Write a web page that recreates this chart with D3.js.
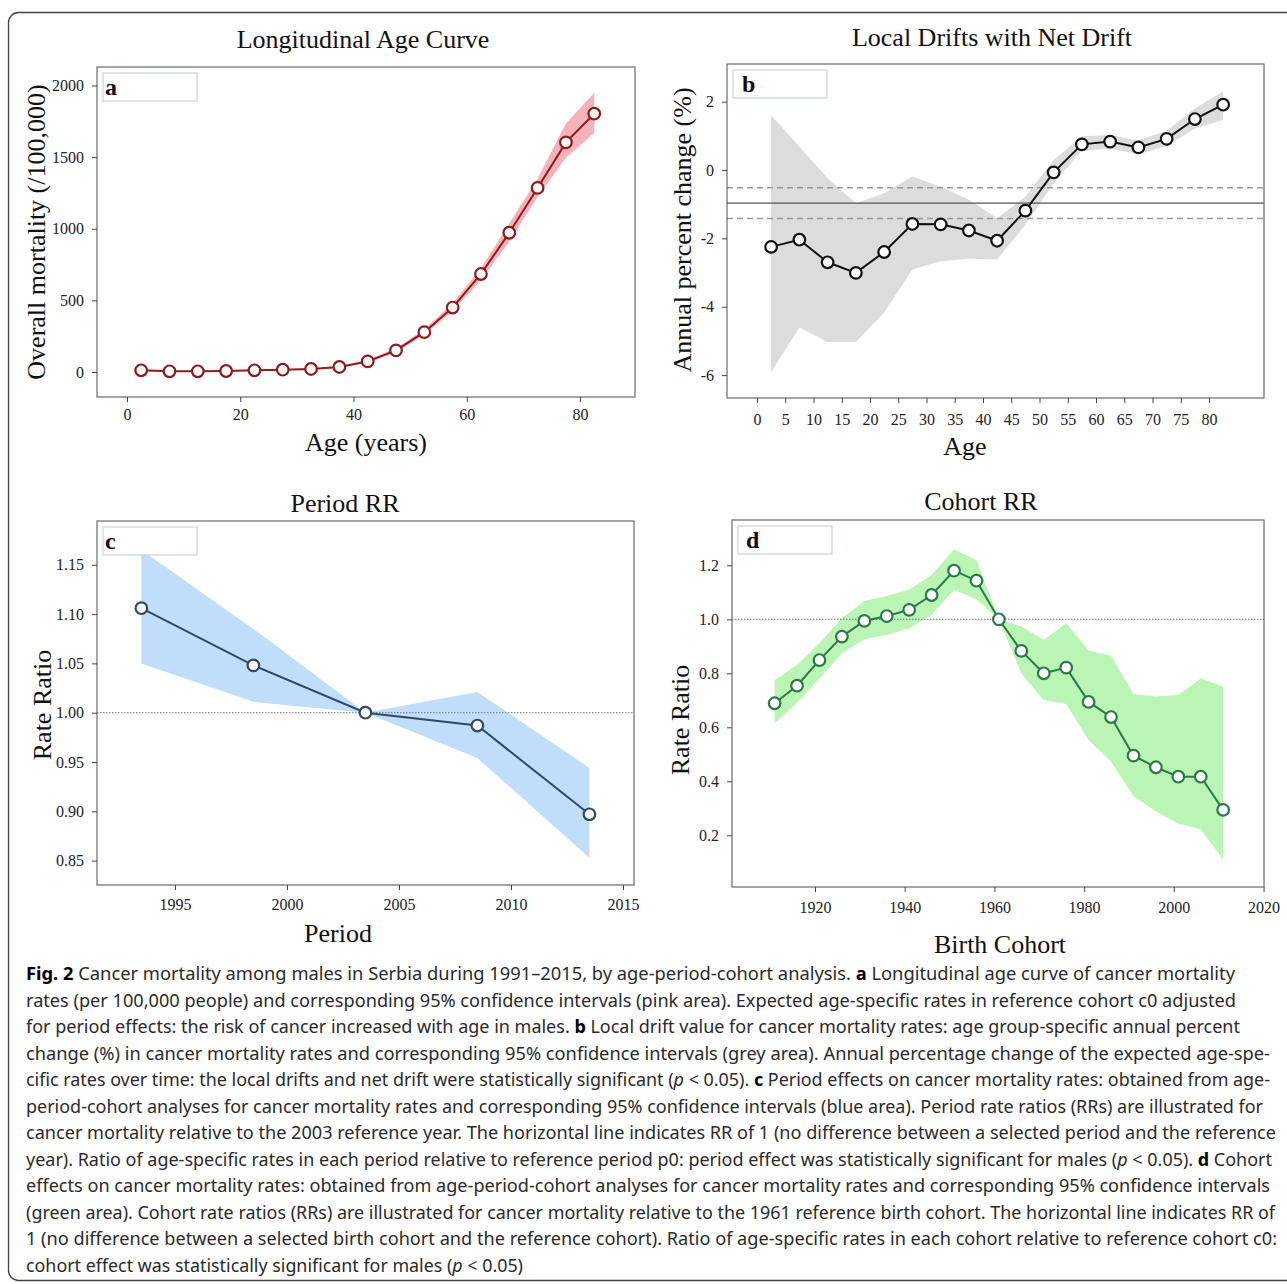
<!DOCTYPE html>
<html>
<head>
<meta charset="utf-8">
<script src="https://cdn.jsdelivr.net/npm/d3@7"></script>
<style>
  body { margin: 0; background: #fff; }
  .serif { font-family: "Liberation Serif", "DejaVu Serif", serif; }
  .cap { font-family: "Noto Sans", "Open Sans", sans-serif; white-space: pre; }
</style>
</head>
<body>
<svg id="fig" width="1287" height="1284"></svg>
<script>
// ---- panel a: longitudinal age curve ----
const ageGroups = [2.5, 7.5, 12.5, 17.5, 22.5, 27.5, 32.5, 37.5, 42.5, 47.5, 52.5, 57.5, 62.5, 67.5, 72.5, 77.5, 82.5];
const ageRate   = [12, 5, 5, 7, 12, 16, 21, 35, 74, 151, 278, 450, 684, 972, 1285, 1603, 1803];
const ageRateLo = [8, 2, 2, 4, 8, 12, 17, 30, 63, 137, 260, 422, 643, 910, 1223, 1495, 1668];
const ageRateHi = [16, 8, 8, 10, 16, 20, 25, 40, 86, 165, 299, 480, 724, 1037, 1350, 1735, 1949];
const ageTicksX = [0, 20, 40, 60, 80];
const ageTicksY = [0, 500, 1000, 1500, 2000];

// ---- panel b: local drifts ----
const drift   = [-2.25, -2.04, -2.70, -3.01, -2.40, -1.58, -1.59, -1.77, -2.07, -1.19, -0.07, 0.75, 0.83, 0.66, 0.91, 1.49, 1.91];
const driftLo = [-5.92, -4.61, -5.03, -5.03, -4.17, -2.91, -2.67, -2.60, -2.62, -1.60, -0.39, 0.56, 0.63, 0.46, 0.70, 1.21, 1.46];
const driftHi = [1.60, 0.68, -0.24, -0.97, -0.68, -0.19, -0.49, -0.87, -1.41, -0.78, 0.29, 0.99, 1.02, 0.87, 1.15, 1.80, 2.30];
const netDrift = [-0.97, -1.42, -0.52]; // estimate, lower, upper
const driftTicksX = [0, 5, 10, 15, 20, 25, 30, 35, 40, 45, 50, 55, 60, 65, 70, 75, 80];
const driftTicksY = [-6, -4, -2, 0, 2];

// ---- panel c: period RR ----
const periods  = [1993.5, 1998.5, 2003.5, 2008.5, 2013.5];
const periodRR = [1.106, 1.048, 1.000, 0.987, 0.897];
const periodLo = [1.050, 1.011, 1.000, 0.954, 0.853];
const periodHi = [1.165, 1.085, 1.000, 1.021, 0.944];
const periodTicksX = [1995, 2000, 2005, 2010, 2015];
const periodTicksY = [0.85, 0.90, 0.95, 1.00, 1.05, 1.10, 1.15];

// ---- panel d: cohort RR ----
const cohorts  = [1911, 1916, 1921, 1926, 1931, 1936, 1941, 1946, 1951, 1956, 1961, 1966, 1971, 1976, 1981, 1986, 1991, 1996, 2001, 2006, 2011];
const cohortRR = [0.689, 0.754, 0.849, 0.936, 0.994, 1.012, 1.035, 1.090, 1.180, 1.143, 1.000, 0.883, 0.800, 0.821, 0.694, 0.638, 0.495, 0.452, 0.417, 0.417, 0.294];
const cohortLo = [0.615, 0.691, 0.781, 0.874, 0.926, 0.942, 0.967, 1.016, 1.109, 1.074, 1.000, 0.800, 0.701, 0.686, 0.553, 0.473, 0.346, 0.288, 0.244, 0.222, 0.111];
const cohortHi = [0.775, 0.831, 0.911, 1.004, 1.068, 1.086, 1.109, 1.164, 1.259, 1.220, 1.000, 0.973, 0.923, 0.985, 0.884, 0.865, 0.723, 0.714, 0.720, 0.781, 0.751];
const cohortTicksX = [1920, 1940, 1960, 1980, 2000, 2020];
const cohortTicksY = [0.2, 0.4, 0.6, 0.8, 1.0, 1.2];

// ---- caption ----
const captionLines = [
  '**Fig. 2**   Cancer mortality among males in Serbia during 1991–2015, by age-period-cohort analysis. **a** Longitudinal age curve of cancer mortality',
  'rates (per 100,000 people) and corresponding 95% confidence intervals (pink area). Expected age-specific rates in reference cohort c0 adjusted',
  'for period effects: the risk of cancer increased with age in males. **b** Local drift value for cancer mortality rates: age group-specific annual percent',
  'change (%) in cancer mortality rates and corresponding 95% confidence intervals (grey area). Annual percentage change of the expected age-spe-',
  'cific rates over time: the local drifts and net drift were statistically significant (*p* < 0.05). **c** Period effects on cancer mortality rates: obtained from age-',
  'period-cohort analyses for cancer mortality rates and corresponding 95% confidence intervals (blue area). Period rate ratios (RRs) are illustrated for',
  'cancer mortality relative to the 2003 reference year. The horizontal line indicates RR of 1 (no difference between a selected period and the reference',
  'year). Ratio of age-specific rates in each period relative to reference period p0: period effect was statistically significant for males (*p* < 0.05). **d** Cohort',
  'effects on cancer mortality rates: obtained from age-period-cohort analyses for cancer mortality rates and corresponding 95% confidence intervals',
  '(green area). Cohort rate ratios (RRs) are illustrated for cancer mortality relative to the 1961 reference birth cohort. The horizontal line indicates RR of',
  '1 (no difference between a selected birth cohort and the reference cohort). Ratio of age-specific rates in each cohort relative to reference cohort c0:',
  'cohort effect was statistically significant for males (*p* < 0.05)'
];
const captionEnds = [1235, 1236, 1240, 1270, 1270, 1263, 1276, 1272, 1270, 1275, 1277, 523];

const svg = d3.select('#fig');

// outer rounded frame
svg.append('rect')
  .attr('x', 8.5).attr('y', 12.5)
  .attr('width', 1300).attr('height', 1268)
  .attr('rx', 10)
  .attr('fill', 'none')
  .attr('stroke', '#444')
  .attr('stroke-width', 1.3);

function panel(o) {
  const [bx0, by0, bx1, by1] = o.box;
  const x = d3.scaleLinear().domain(o.xDomain).range([bx0, bx1]);
  const y = d3.scaleLinear().domain(o.yDomain).range([by1, by0]);
  const rows = o.xs.map((v, i) => ({x: v, v: o.ys[i], lo: o.lo[i], hi: o.hi[i]}));
  const g = svg.append('g').attr('class', 'serif');

  // confidence band
  g.append('path').datum(rows)
    .attr('fill', o.band)
    .attr('d', d3.area().x(d => x(d.x)).y0(d => y(d.lo)).y1(d => y(d.hi)));

  // reference lines
  (o.refs || []).forEach(r => {
    g.append('line')
      .attr('x1', bx0).attr('x2', bx1)
      .attr('y1', y(r.v)).attr('y2', y(r.v))
      .attr('stroke', r.color)
      .attr('stroke-width', r.width || 1)
      .attr('stroke-dasharray', r.dash || null);
  });

  // line + points
  g.append('path').datum(rows)
    .attr('fill', 'none')
    .attr('stroke', o.color)
    .attr('stroke-width', 2)
    .attr('d', d3.line().x(d => x(d.x)).y(d => y(d.v)));

  g.selectAll('circle.pt').data(rows).join('circle')
    .attr('class', 'pt')
    .attr('cx', d => x(d.x)).attr('cy', d => y(d.v))
    .attr('r', 5.8)
    .attr('fill', '#fff')
    .attr('stroke', o.color)
    .attr('stroke-width', 2.2);

  // box
  g.append('rect')
    .attr('x', bx0).attr('y', by0)
    .attr('width', bx1 - bx0).attr('height', by1 - by0)
    .attr('fill', 'none')
    .attr('stroke', '#6a6a6a')
    .attr('stroke-width', 1.2);

  // axes
  const xAxis = d3.axisBottom(x).tickValues(o.xTicks).tickSize(5).tickPadding(o.xPad).tickFormat(o.xFmt);
  const yAxis = d3.axisLeft(y).tickValues(o.yTicks).tickSize(5).tickPadding(8).tickFormat(o.yFmt);
  [
    g.append('g').attr('transform', `translate(0,${by1})`).call(xAxis),
    g.append('g').attr('transform', `translate(${bx0},0)`).call(yAxis)
  ].forEach(a => {
    a.select('.domain').remove();
    a.attr('font-family', null).attr('font-size', 16);
    a.selectAll('line').attr('stroke', '#444');
    a.selectAll('text').attr('fill', '#222');
  });

  // panel letter box
  g.append('rect')
    .attr('x', bx0 + 6).attr('y', by0 + 6)
    .attr('width', 94).attr('height', 28)
    .attr('fill', '#fff')
    .attr('stroke', '#cbd6e8')
    .attr('stroke-width', 1.3);
  g.append('text')
    .attr('x', bx0 + o.letterDx).attr('y', by0 + 28)
    .attr('font-size', 24).attr('font-weight', 'bold')
    .attr('fill', '#111')
    .text(o.letter);

  // titles
  g.append('text')
    .attr('x', o.title[1]).attr('y', o.title[2])
    .attr('text-anchor', 'middle').attr('font-size', 26).attr('fill', '#111')
    .text(o.title[0]);
  g.append('text')
    .attr('x', o.xLabel[1]).attr('y', o.xLabel[2])
    .attr('text-anchor', 'middle').attr('font-size', 26).attr('fill', '#111')
    .text(o.xLabel[0]);
  g.append('text')
    .attr('transform', `translate(${o.yLabel[1]},${o.yLabel[2]}) rotate(-90)`)
    .attr('text-anchor', 'middle').attr('dy', '0.35em')
    .attr('font-size', 26).attr('fill', '#111')
    .text(o.yLabel[0]);
}

panel({
  box: [97, 67, 635, 397], xDomain: [-5.3, 89.7], yDomain: [-174.5, 2129],
  xs: ageGroups, ys: ageRate, lo: ageRateLo, hi: ageRateHi,
  color: '#8f1a1a', band: '#f6b2bb',
  xTicks: ageTicksX, yTicks: ageTicksY, xFmt: d3.format('d'), yFmt: d => String(d), xPad: 7,
  letter: 'a', letterDx: 8,
  title: ['Longitudinal Age Curve', 363, 48],
  xLabel: ['Age (years)', 366, 451],
  yLabel: ['Overall mortality (/100,000)', 36, 232]
});

panel({
  box: [727, 64, 1264, 398], xDomain: [-5.31, 89.73], yDomain: [-6.67, 3.10],
  xs: ageGroups, ys: drift, lo: driftLo, hi: driftHi,
  color: '#111', band: '#dcdcdc',
  refs: [
    {v: netDrift[2], color: '#9a9a9a', dash: '6,4', width: 1.3},
    {v: netDrift[1], color: '#9a9a9a', dash: '6,4', width: 1.3},
    {v: netDrift[0], color: '#555', width: 1.3}
  ],
  xTicks: driftTicksX, yTicks: driftTicksY, xFmt: d3.format('d'), yFmt: d => String(d), xPad: 11,
  letter: 'b', letterDx: 15,
  title: ['Local Drifts with Net Drift', 992, 46],
  xLabel: ['Age', 965, 455],
  yLabel: ['Annual percent change (%)', 682, 230]
});

panel({
  box: [97, 521, 634, 885], xDomain: [1991.52, 2015.49], yDomain: [0.8253, 1.1944],
  xs: periods, ys: periodRR, lo: periodLo, hi: periodHi,
  color: '#2f4a66', band: '#c0ddf9',
  refs: [{v: 1, color: '#777', dash: '1.5,1.5', width: 1}],
  xTicks: periodTicksX, yTicks: periodTicksY, xFmt: d3.format('d'), yFmt: d3.format('.2f'), xPad: 9,
  letter: 'c', letterDx: 8,
  title: ['Period RR', 345, 512],
  xLabel: ['Period', 338, 942],
  yLabel: ['Rate Ratio', 42, 705]
});

panel({
  box: [732, 520, 1264, 887], xDomain: [1901.5, 2020.1], yDomain: [0.0085, 1.3678],
  xs: cohorts, ys: cohortRR, lo: cohortLo, hi: cohortHi,
  color: '#2a7a48', band: '#baf5b5',
  refs: [{v: 1, color: '#777', dash: '1.5,1.5', width: 1}],
  xTicks: cohortTicksX, yTicks: cohortTicksY, xFmt: d3.format('d'), yFmt: d3.format('.1f'), xPad: 10,
  letter: 'd', letterDx: 14,
  title: ['Cohort RR', 981, 510],
  xLabel: ['Birth Cohort', 1000, 953],
  yLabel: ['Rate Ratio', 680, 720]
});

// caption, one text element per printed line
const cap = svg.append('g').attr('class', 'cap').attr('font-size', 17.5).attr('fill', '#2a2a2a');
captionLines.forEach((line, i) => {
  const t = cap.append('text')
    .attr('x', 26).attr('y', 980 + i * 26.5)
    .attr('textLength', captionEnds[i] - 26)
    .attr('lengthAdjust', 'spacingAndGlyphs');
  line.split(/(\*\*[^*]+\*\*|\*[^*]+\*)/).filter(s => s.length).forEach(s => {
    const ts = t.append('tspan');
    if (s.startsWith('**')) ts.attr('font-weight', 'bold').attr('fill', '#000').text(s.slice(2, -2));
    else if (s.startsWith('*')) ts.attr('font-style', 'italic').text(s.slice(1, -1));
    else ts.text(s);
  });
});
</script>
</body>
</html>
